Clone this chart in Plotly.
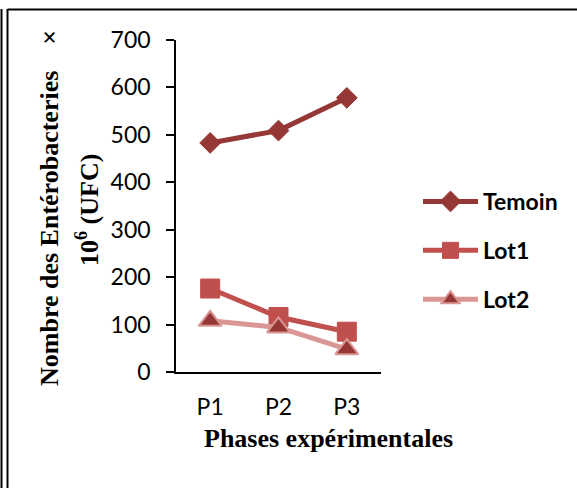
import plotly.graph_objects as go

phases = ["P1", "P2", "P3"]
temoin = [483, 509, 578]
lot1 = [176, 116, 85]
lot2 = [108, 94, 48]

W, H = 577, 488
L, R, T, B = 176, 196, 40, 116
pw, ph = W - L - R, H - T - B

def px(x):
    return (x - L) / pw

def py(y):
    return (H - B - y) / ph

SANS = "Lato, Carlito, Calibri, sans-serif"
SERIF = "Liberation Serif, Times New Roman, serif"

fig = go.Figure()
fig.add_trace(go.Scatter(x=phases, y=temoin, name="Temoin", mode="lines+markers",
                         legendgroup="a",
                         line=dict(color="#953735", width=5),
                         marker=dict(symbol="diamond", size=16, color="#953735",
                                     line=dict(color="#953735", width=1))))
fig.add_trace(go.Scatter(x=phases, y=lot1, name="Lot1", mode="lines+markers",
                         legendgroup="b",
                         line=dict(color="#C0504D", width=5),
                         marker=dict(symbol="square", size=19, color="#C0504D",
                                     line=dict(color="#C0504D", width=1))))
fig.add_trace(go.Scatter(x=phases, y=lot2, name="Lot2", mode="lines+markers",
                         legendgroup="c",
                         line=dict(color="#D99694", width=5),
                         marker=dict(symbol="triangle-up", size=20, color="#953735",
                                     line=dict(color="#D99694", width=2))))

fig.update_layout(
    width=W, height=H,
    margin=dict(l=L, r=R, t=T, b=B),
    paper_bgcolor="white", plot_bgcolor="white",
    showlegend=True,
    legend=dict(x=px(418), y=py(180), xanchor="left", yanchor="top",
                font=dict(family=SANS, size=23, color="black", weight="bold"),
                tracegroupgap=16, itemwidth=55, bgcolor="rgba(0,0,0,0)"),
    xaxis=dict(type="category", range=[-0.5, 2.5], showgrid=False, zeroline=False,
               showline=True, linecolor="black", linewidth=1.5, ticks="",
               tickfont=dict(family=SANS, size=23, color="black"),
               ticklabelstandoff=14),
    yaxis=dict(range=[0, 700], dtick=100, showgrid=False, zeroline=False,
               showline=True, linecolor="black", linewidth=1.5,
               ticks="outside", ticklen=8, tickwidth=1.5, tickcolor="black",
               tickfont=dict(family=SANS, size=23, color="black"),
               ticklabelstandoff=11),
)

fig.add_annotation(xref="paper", yref="paper", x=px(328), y=py(438),
                   xanchor="center", yanchor="middle",
                   text="<b>Phases expérimentales</b>", showarrow=False,
                   font=dict(family=SERIF, size=26, color="black"))
fig.add_annotation(xref="paper", yref="paper", x=px(49), y=py(208),
                   xanchor="center", yanchor="middle",
                   text="<b>Nombre des Entérobacteries&nbsp;&nbsp;&nbsp;&nbsp;×</b>",
                   showarrow=False, textangle=-90,
                   font=dict(family=SERIF, size=26, color="black"))
fig.add_annotation(xref="paper", yref="paper", x=px(88), y=py(210),
                   xanchor="center", yanchor="middle",
                   text="<b>10<sup>6</sup> (UFC)</b>",
                   showarrow=False, textangle=-90,
                   font=dict(family=SERIF, size=26, color="black"))

border = dict(color="black", width=2)
fig.add_shape(type="line", xref="paper", yref="paper", x0=px(1.5), x1=px(1.5), y0=py(9), y1=py(488), line=border)
fig.add_shape(type="line", xref="paper", yref="paper", x0=px(7.5), x1=px(7.5), y0=py(9), y1=py(488), line=border)
fig.add_shape(type="line", xref="paper", yref="paper", x0=px(7.5), x1=px(577), y0=py(9.5), y1=py(9.5), line=border)

fig.write_html("out.html")
